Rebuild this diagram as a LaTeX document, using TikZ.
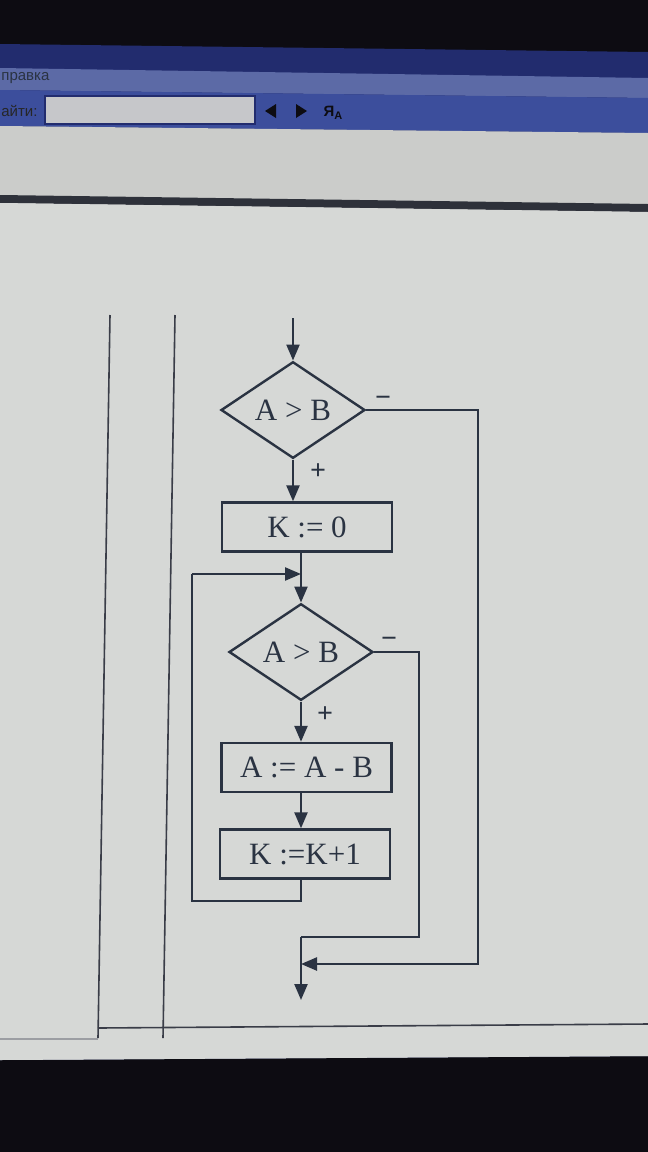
\documentclass[tikz,border=0pt]{standalone}
\usepackage{fontspec}
\setmainfont{Liberation Serif}
\newfontfamily\uifont{Liberation Sans}
\usetikzlibrary{shapes.geometric,arrows.meta}
\definecolor{ink}{HTML}{2A3342}
\definecolor{pagebg}{HTML}{D6D8D6}
\definecolor{greyarea}{HTML}{CBCCCA}
\definecolor{screendark}{HTML}{0D0C12}
\definecolor{titleblue}{HTML}{222C6E}
\definecolor{menublue}{HTML}{5C6AA6}
\definecolor{toolblue}{HTML}{3C4E9C}
\definecolor{boxgrey}{HTML}{C6C7CA}
\definecolor{rulegrey}{HTML}{3A3D48}
\begin{document}
\begin{tikzpicture}[x=0.5pt,y=-0.5pt,
  decision/.style={diamond, draw=ink, line width=1.2pt, inner sep=0pt,
    minimum width=72pt, minimum height=47pt, text=ink,
    font=\fontsize{15.5}{18}\selectfont},
  process/.style={rectangle, draw=ink, line width=1.2pt, inner sep=0pt,
    minimum width=85pt, minimum height=24.5pt, text=ink,
    font=\fontsize{15.5}{18}\selectfont},
  flow/.style={draw=ink, line width=1.2pt},
  arr/.style={flow, -{Triangle[length=8pt,width=6.5pt]}},
  sign/.style={text=ink, inner sep=0pt, font=\bfseries\fontsize{14}{16}\selectfont},
  uitext/.style={inner sep=0pt, anchor=west, font=\uifont\fontsize{7.5}{9}\selectfont},
  pageline/.style={draw=rulegrey, line width=0.8pt}]
\useasboundingbox (0,0) rectangle (648,1152);
\clip (0,0) rectangle (648,1152);
% --- screen surroundings ---
\fill[screendark] (0,0) rectangle (648,1152);
\fill[titleblue] (0,44) -- (648,52) -- (648,1056) -- (0,1060) -- cycle;
\fill[menublue] (0,68) -- (648,78) -- (648,98) -- (0,90) -- cycle;
\fill[toolblue] (0,90) -- (648,98) -- (648,133) -- (0,126) -- cycle;
\fill[greyarea] (0,126) -- (648,133) -- (648,1056) -- (0,1060) -- cycle;
\fill[rulegrey!80!black] (0,195) -- (648,204) -- (648,212) -- (0,203) -- cycle;
\fill[pagebg] (0,203) -- (648,212) -- (648,1056) -- (0,1060) -- cycle;
\node[uitext, text=ink] (menu) at (1,78) {правка};
\node[uitext, text=black!85] (find) at (1,111) {айти:};
\draw[fill=boxgrey, draw=titleblue, line width=0.8pt] (45,96) rectangle (255,124);
\fill[screendark] (265,111) -- (276,104) -- (276,118) -- cycle;
\fill[screendark] (307,111) -- (296,104) -- (296,118) -- cycle;
\node[inner sep=0pt, text=screendark, font=\uifont\bfseries\fontsize{7.5}{8}\selectfont] (icon) at (333,113) {Я\raisebox{-1.5pt}{\fontsize{5.5}{6}\selectfont A}};
% page frame lines
\draw[pageline] (110,315) -- (98,1038);
\draw[pageline] (175,315) -- (163,1038);
\draw[pageline] (98,1028) -- (648,1024);
\draw[pageline, draw=rulegrey!50] (0,1039) -- (98,1039);
% --- flowchart ---
\node[decision] (d1) at (293,410) {A > B};
\node[process]  (r1) at (307,527) {K := 0};
\node[decision] (d2) at (301,652) {A > B};
\node[process]  (r2) at (306.5,767.5) {A := A - B};
\node[process]  (r3) at (305,854) {K :=K+1};
\node[sign] (m1) at (383,401) {−};
\node[sign] (p1) at (318,472) {+};
\node[sign] (m2) at (389,642) {−};
\node[sign] (p2) at (325,715) {+};
\coordinate (start) at (293,318);
\coordinate (lb) at (192,901);
\coordinate (lt) at (192,574);
\coordinate (j1) at (301,937);
\coordinate (j2) at (301,964);
\coordinate (fin) at (301,1000);
\draw[arr] (start) -- (d1.north);
\draw[arr] (d1.south) -- (d1.south |- r1.north);
\draw[arr] (r1.south -| d2.north) -- (d2.north);
\draw[arr] (d2.south) -- (d2.south |- r2.north);
\draw[arr] (d2.south |- r2.south) -- (d2.south |- r3.north);
\draw[flow] (d2.south |- r3.south) |- (lb) -- (lt);
\draw[arr] (lt) -- (lt -| d2.north);
\draw[flow] (d2.east) -| (419,937) -- (j1);
\draw[arr] (d1.east) -| (478,964) -- (j2);
\draw[arr] (j1) -- (fin);
\end{tikzpicture}
\end{document}
